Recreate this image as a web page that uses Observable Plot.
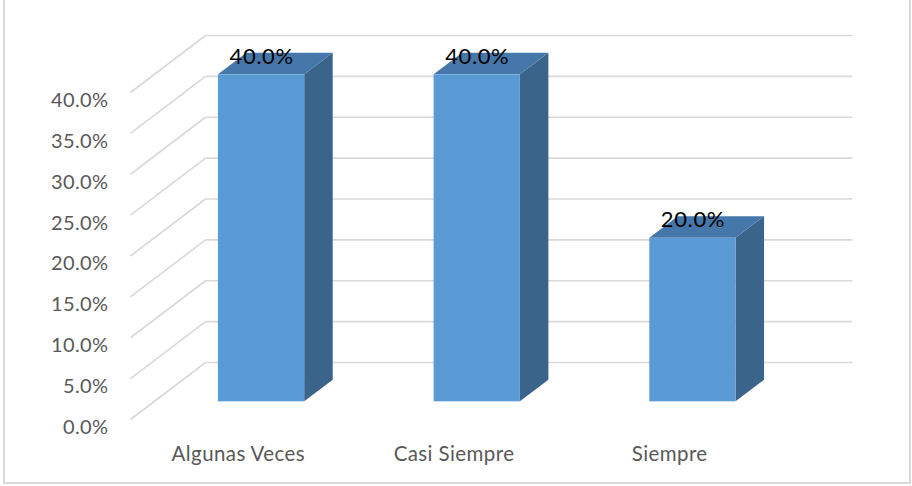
<!DOCTYPE html>
<html>
<head>
<meta charset="utf-8">
<script src="https://cdn.jsdelivr.net/npm/d3@7"></script>
<script src="https://cdn.jsdelivr.net/npm/@observablehq/plot@0.6"></script>
<style>
  html, body { margin: 0; padding: 0; background: #fff; }
  #wrap { position: relative; width: 912px; height: 486px; overflow: hidden; }
  #frame { position: absolute; left: 3px; top: -2px; width: 908px; height: 486px;
           border: 2px solid #d9d9d9; box-sizing: border-box; pointer-events: none; }
  #chart { position: absolute; left: 0; top: 0; }
  .tick-lab text, .cat-lab text { letter-spacing: 0.4px; }
  .val-lab text { letter-spacing: 0.6px; }
</style>
</head>
<body>
<div id="wrap"><div id="chart"></div><div id="frame"></div></div>
<script>
// ---- data ----
const categories = ["Algunas Veces", "Casi Siempre", "Siempre"];
const values = [40.0, 40.0, 20.0];
const yTicks = [0, 5, 10, 15, 20, 25, 30, 35, 40];

// ---- layout / styling constants ----
const W = 912, H = 486;
const mL = 130, mR = 135, mT = 92, mB = 67;
const yMax = 40;
const depthPx = {x: 75, y: 57};          // oblique depth vector (pixels)
const kx = (W - mL - mR) / categories.length; // px per slot
const ky = (H - mT - mB) / yMax;               // px per percent
const DX = depthPx.x / kx, DY = depthPx.y / ky; // depth vector in data units
const t0 = 0.31, t1 = 0.69;   // bar depth span
const hw = 0.2;               // half bar width (slot units)

const font = "Lato, 'Open Sans', sans-serif";

// ---- derived geometry ----
const bars = categories.map((c, i) => ({c, i, v: values[i]}));
const frontFace = bars.map(b => ({
  x1: b.i + 0.5 - hw + t0 * DX, x2: b.i + 0.5 + hw + t0 * DX,
  y1: t0 * DY, y2: b.v + t0 * DY
}));
const sideFace = bars.flatMap(b => {
  const xr = b.i + 0.5 + hw + t0 * DX;
  return [
    {z: b.c, x: xr, y1: t0 * DY, y2: b.v + t0 * DY},
    {z: b.c, x: xr + (t1 - t0) * DX, y1: t1 * DY, y2: b.v + t1 * DY}
  ];
});
const topFace = bars.flatMap(b => {
  const xl = b.i + 0.5 - hw + t0 * DX;
  const xr = b.i + 0.5 + hw + t0 * DX;
  const d = (t1 - t0) * DX;
  const lo = b.v + t0 * DY, hi = b.v + t1 * DY;
  return [
    {z: b.c, x: xl, y1: lo, y2: lo},
    {z: b.c, x: xl + d, y1: lo, y2: hi},
    {z: b.c, x: xr, y1: lo, y2: hi},
    {z: b.c, x: xr + d, y1: hi, y2: hi}
  ];
});

const fmt = v => v.toFixed(1) + "%";

const chart = Plot.plot({
  width: W, height: H,
  marginLeft: mL, marginRight: mR, marginTop: mT, marginBottom: mB,
  x: {domain: [0, categories.length], axis: null},
  y: {domain: [0, yMax], axis: null},
  style: {fontFamily: font, background: "transparent", overflow: "visible"},
  marks: [
    // back wall gridlines
    Plot.link(yTicks, {x1: DX, x2: categories.length + DX, y1: d => d + DY, y2: d => d + DY,
      stroke: "#d9d9d9", strokeWidth: 1.6}),
    // side wall diagonals
    Plot.link(yTicks, {x1: 0, x2: DX, y1: d => d, y2: d => d + DY,
      stroke: "#d9d9d9", strokeWidth: 1.6}),
    // bars
    Plot.areaY(sideFace, {x: "x", y1: "y1", y2: "y2", z: "z", fill: "#3a6489", curve: "linear"}),
    Plot.areaY(topFace, {x: "x", y1: "y1", y2: "y2", z: "z", fill: "#4677aa", curve: "linear"}),
    Plot.rect(frontFace, {x1: "x1", x2: "x2", y1: "y1", y2: "y2", fill: "#5b9bd5"}),
    // value labels
    Plot.text(bars, {x: b => b.i + 0.5 + t0 * DX, y: b => b.v + t0 * DY, text: b => fmt(b.v),
      dy: -18, fill: "#000", fontSize: 22, textAnchor: "middle", className: "val-lab"}),
    // y tick labels
    Plot.text(yTicks, {x: 0, y: d => d, text: d => fmt(d), dx: -22, dy: 8,
      textAnchor: "end", fill: "#595959", fontSize: 20, className: "tick-lab"}),
    // category labels
    Plot.text(bars, {x: b => b.i + 0.5, y: 0, text: "c", dy: 35,
      textAnchor: "middle", fill: "#595959", fontSize: 20.5, className: "cat-lab"})
  ]
});
document.getElementById("chart").appendChild(chart);
</script>
</body>
</html>
